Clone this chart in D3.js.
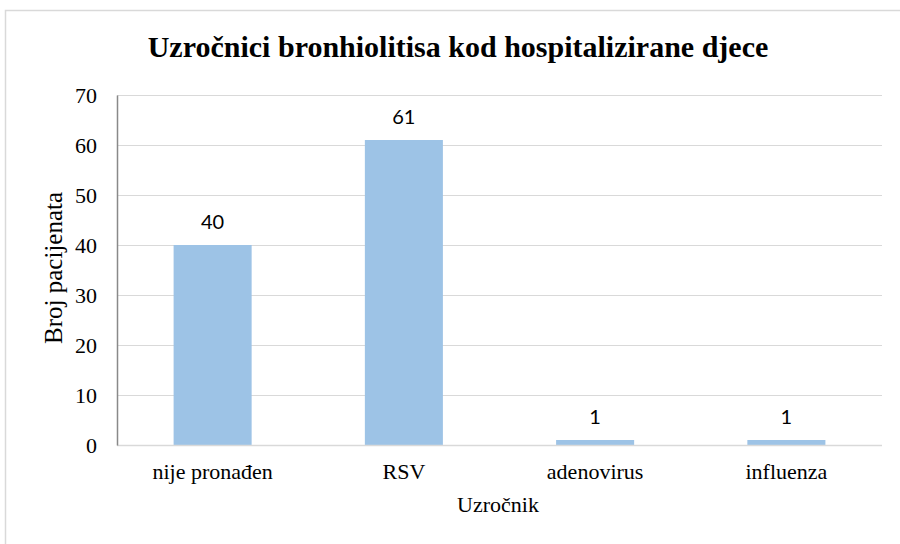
<!DOCTYPE html>
<html><head><meta charset="utf-8">
<script src="https://cdn.jsdelivr.net/npm/d3@7"></script>
<style>body{margin:0;background:#fff}svg{display:block}</style>
</head><body>
<script>
const categories = ["nije pronađen", "RSV", "adenovirus", "influenza"];
const values = [40, 61, 1, 1];
const yTicks = [0, 10, 20, 30, 40, 50, 60, 70];
const title = "Uzročnici bronhiolitisa kod hospitalizirane djece";
const xTitle = "Uzročnik";
const yTitle = "Broj pacijenata";

const W = 900, H = 544;
const svg = d3.select("body").append("svg").attr("width", W).attr("height", H);
svg.append("rect").attr("x", 5.5).attr("y", 10.5).attr("width", 920).attr("height", 560)
  .attr("fill", "#fff").attr("stroke", "#d9d9d9").attr("stroke-width", 1.5);

const L = 117, R = 882, T = 95, B = 445;
const x = d3.scaleBand().domain(categories).range([L, R]).paddingInner(0.592).paddingOuter(0.296);
const y = d3.scaleLinear().domain([0, 70]).range([B, T]);

const serif = "Liberation Serif";
const sans = "Lato";

// gridlines
svg.append("g").selectAll("line").data(yTicks.filter(d => d > 0)).join("line")
  .attr("x1", L).attr("x2", R).attr("y1", d => Math.round(y(d)) + 0.5).attr("y2", d => Math.round(y(d)) + 0.5)
  .attr("stroke", "#d9d9d9").attr("stroke-width", 1.2);

// bars
svg.append("g").selectAll("rect").data(values).join("rect")
  .attr("x", (d, i) => x(categories[i])).attr("width", x.bandwidth())
  .attr("y", d => y(d)).attr("height", d => B - y(d))
  .attr("fill", "#9dc3e6");

// x axis line
svg.append("line").attr("x1", L).attr("x2", R).attr("y1", B + 0.5).attr("y2", B + 0.5)
  .attr("stroke", "#d9d9d9").attr("stroke-width", 1.5);

// y axis
const yAxis = d3.axisLeft(y).tickValues(yTicks).tickSize(0).tickPadding(20);
const yg = svg.append("g").attr("transform", `translate(${L},0)`).call(yAxis);
yg.attr("font-family", null).attr("font-size", null);
yg.select(".domain").attr("stroke", "#898989").attr("stroke-width", 1.5);
yg.selectAll("text").style("font-family", serif).style("font-size", "22px").attr("fill", "#000");

// x axis labels
const xAxis = d3.axisBottom(x).tickSize(0).tickPadding(0);
const xg = svg.append("g").attr("transform", `translate(0,${B})`).call(xAxis);
xg.attr("font-family", null).attr("font-size", null);
xg.select(".domain").remove();
xg.selectAll("text").attr("dy", null).attr("y", 34).style("font-family", serif).style("font-size", "22px").attr("fill", "#000");

// value labels
svg.append("g").selectAll("text").data(values).join("text")
  .attr("x", (d, i) => x(categories[i]) + x.bandwidth() / 2)
  .attr("y", d => y(d) - 16)
  .attr("text-anchor", "middle").style("font-family", sans).style("font-size", "20px").attr("fill", "#000")
  .text(d => d);

// title
svg.append("text").attr("x", 458).attr("y", 57).attr("text-anchor", "middle")
  .style("font-family", serif).style("font-weight", "bold").style("font-size", "30px").text(title);

// axis titles
svg.append("text").attr("x", 498).attr("y", 512).attr("text-anchor", "middle")
  .style("font-family", serif).style("font-size", "22px").text(xTitle);
svg.append("text").attr("transform", "translate(62,268) rotate(-90)").attr("text-anchor", "middle")
  .style("font-family", serif).style("font-size", "25px").text(yTitle);
</script>
</body></html>
